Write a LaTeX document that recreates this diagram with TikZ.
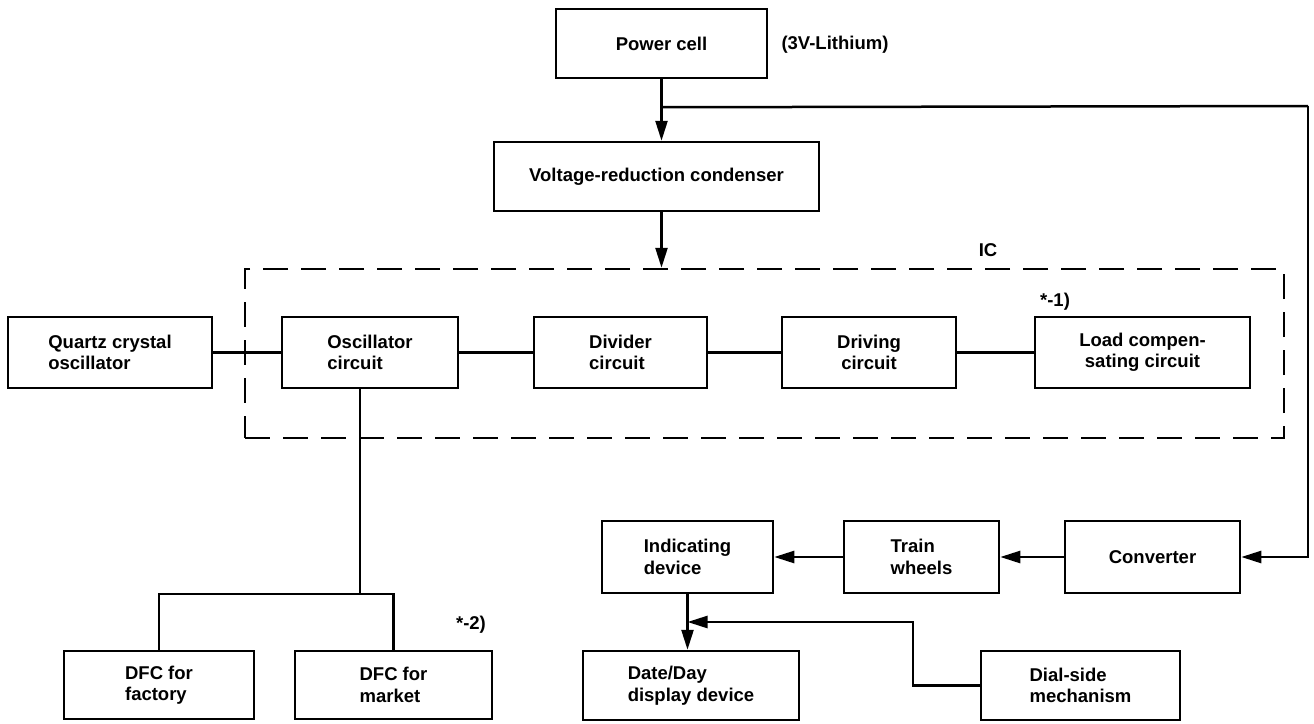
\documentclass[tikz,border=0pt]{standalone}
\usepackage{fontspec}
\setmainfont{Liberation Sans}
\usetikzlibrary{arrows.meta}

\begin{document}
\begin{tikzpicture}[x=1pt,y=-1pt,
  blk/.style={draw,line width=2.5pt,inner sep=0pt,align=left,font=\bfseries\fontsize{18.5}{21.5}\selectfont},
  lbl/.style={font=\bfseries\fontsize{18.5}{21.5}\selectfont},
  ln/.style={line width=2.5pt},
  arr/.style={line width=2.5pt,-{Triangle[length=20pt,width=12pt]}}]
  \useasboundingbox (0,0) rectangle (1314,723);
  % supply
  \node[blk,minimum width=211pt,minimum height=69pt] (power) at (661.5,43.5) {Power cell};
  \node[lbl,anchor=west] (lith) at (778,45) {(3V-Lithium)};
  \node[blk,minimum width=325pt,minimum height=69pt] (volt) at (656.5,176.5) {Voltage-reduction condenser};
  % IC
  \node[draw,line width=2.5pt,dash pattern=on 25pt off 13pt,minimum width=1039pt,minimum height=169pt] (ic) at (764.5,353.5) {};
  \node[lbl] (iclbl) at (988,250) {IC};
  \node[blk,minimum width=204pt,minimum height=71pt] (quartz) at (110,352.5) {Quartz crystal\\oscillator};
  \node[blk,minimum width=176pt,minimum height=71pt] (osc) at (370,352.5) {Oscillator\\circuit};
  \node[blk,minimum width=173pt,minimum height=71pt] (div) at (620.5,352.5) {Divider\\circuit};
  \node[blk,minimum width=174pt,minimum height=71pt,align=center] (drv) at (869,352.5) {Driving\\circuit};
  \node[blk,minimum width=215pt,minimum height=71pt,align=center] (load) at (1142.5,352.5) {Load compen-\\sating circuit};
  \node[lbl] (note1) at (1055,302) {*-1)};
  % DFC
  \node[blk,minimum width=190pt,minimum height=68pt] (dfcf) at (159,685) {DFC for\\factory};
  \node[blk,minimum width=197pt,minimum height=68pt] (dfcm) at (393.5,685) {DFC for\\market};
  \node[lbl] (note2) at (471,625) {*-2)};
  % movement
  \node[blk,minimum width=171pt,minimum height=72pt] (ind) at (687.5,557) {Indicating\\device};
  \node[blk,minimum width=155pt,minimum height=72pt] (train) at (921.5,557) {Train\\wheels};
  \node[blk,minimum width=175pt,minimum height=72pt] (conv) at (1152.5,557) {Converter};
  \node[blk,minimum width=216pt,minimum height=69pt] (date) at (691,685.5) {Date/Day\\display device};
  \node[blk,minimum width=199pt,minimum height=69pt] (dial) at (1080.5,685.5) {Dial-side\\mechanism};

  \coordinate (tap) at ([yshift=-28pt]power.south);
  \coordinate (rt) at (1308,106);
  \coordinate (oscout) at ([xshift=-10pt]osc.south);
  \coordinate (fork) at (360,594);
  \coordinate (bend) at (913,622);
  \coordinate (jn) at (687.5,622);

  \draw[arr] (power.south) -- (power.south |- volt.north);
  \draw[ln] (tap) -- (rt);
  \draw[arr] (rt) |- (conv.east);
  \draw[arr] (power.south |- volt.south) -- (power.south |- ic.north);
  \draw[ln] (quartz) -- (osc);
  \draw[ln] (osc) -- (div);
  \draw[ln] (div) -- (drv);
  \draw[ln] (drv) -- (load);
  \draw[ln] (oscout) -- (fork);
  \draw[ln] (dfcf.north) |- (fork) -| (dfcm.north);
  \draw[arr] (conv) -- (train);
  \draw[arr] (train) -- (ind);
  \draw[arr] (ind.south) -- (ind.south |- date.north);
  \draw[arr] (dial.west) -| (bend) -- (jn);
\end{tikzpicture}
\end{document}
